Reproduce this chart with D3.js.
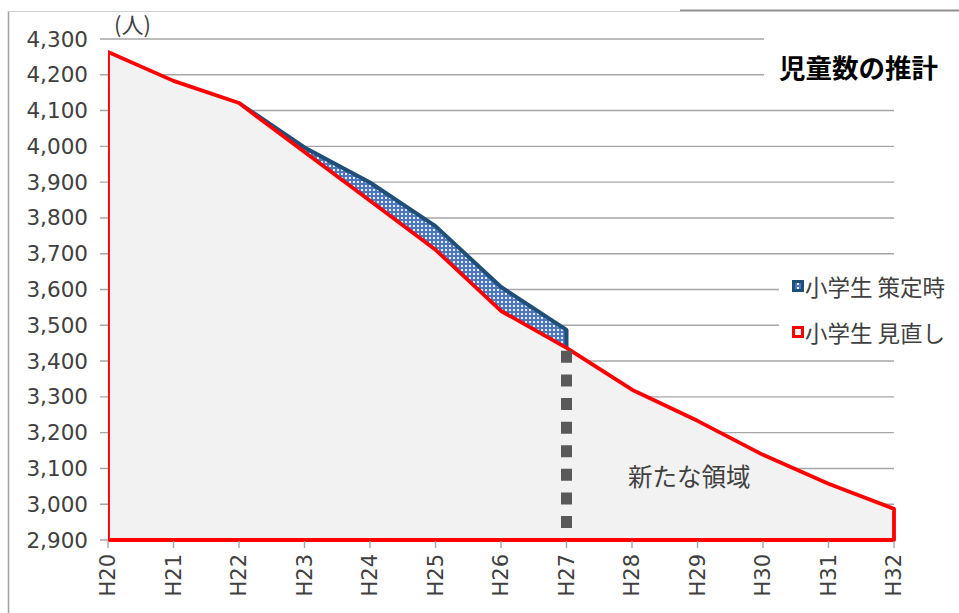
<!doctype html>
<html lang="ja">
  <head>
    <meta charset="UTF-8" />
    <title>児童数の推計</title>
    <style>
      body { margin: 0; background: #fff; }
      text { fill: #404040; }
    </style>
  </head>
  <body>
    <div id="target"></div>
    <script src="https://d3js.org/d3.v7.min.js"></script>
    <script>
      /* global d3 */

      const years = ["H20", "H21", "H22", "H23", "H24", "H25", "H26",
        "H27", "H28", "H29", "H30", "H31", "H32"];
      // 小学生 見直し (revised)
      const revised = [4264, 4183, 4121, 3984, 3848, 3711, 3540,
        3437, 3320, 3233, 3138, 3057, 2987];
      // 小学生 策定時 (original plan), H22..H27
      const planYears = ["H22", "H23", "H24", "H25", "H26", "H27"];
      const plan = [4121, 3997, 3899, 3777, 3607, 3487];
      const yTicks = d3.range(2900, 4301, 100);

      const width = 959, height = 613;
      const fontNum = "'DejaVu Sans', Verdana, sans-serif";
      const fontJa = "'Noto Sans CJK JP', sans-serif";

      const svg = d3.select("#target").append("svg")
        .attr("width", width).attr("height", height);

      const x = d3.scalePoint().domain(years).range([108, 894]);
      const y = d3.scaleLinear().domain([2900, 4300]).range([540, 39]);

      // outer frame
      svg.append("line").attr("x1", 8.5).attr("x2", 8.5).attr("y1", 11).attr("y2", height)
        .attr("stroke", "#a0a0a0").attr("stroke-width", 1.5);
      svg.append("line").attr("x1", 8).attr("x2", 680).attr("y1", 11.5).attr("y2", 11.5)
        .attr("stroke", "#d0d0d0").attr("stroke-width", 1);
      svg.append("line").attr("x1", 680).attr("x2", width).attr("y1", 10.5).attr("y2", 10.5)
        .attr("stroke", "#909090").attr("stroke-width", 2);

      // gridlines
      svg.append("g").selectAll("line").data(yTicks).join("line")
        .attr("x1", 100).attr("x2", 894)
        .attr("y1", (d) => y(d)).attr("y2", (d) => y(d))
        .attr("stroke", "#a6a6a6").attr("stroke-width", 1.4);

      // y labels
      svg.append("g").selectAll("text").data(yTicks).join("text")
        .attr("x", 88).attr("y", (d) => y(d))
        .attr("text-anchor", "end").attr("dominant-baseline", "central")
        .style("font", `21.5px ${fontNum}`)
        .text((d) => d3.format(",")(d));

      svg.append("text").attr("x", 114).attr("y", 23)
        .attr("dominant-baseline", "central")
        .style("font", `22px ${fontJa}`).text("(人)");

      // pattern for plan area
      const defs = svg.append("defs");
      const pat = defs.append("pattern").attr("id", "dots")
        .attr("patternUnits", "userSpaceOnUse").attr("width", 4).attr("height", 4);
      pat.append("rect").attr("width", 4).attr("height", 4).attr("fill", "#4d77c0");
      pat.append("rect").attr("x", 1).attr("y", 1).attr("width", 2).attr("height", 2).attr("fill", "#e6eefa");

      defs.append("clipPath").attr("id", "plotClip").append("rect")
        .attr("x", 108).attr("y", 0).attr("width", 790).attr("height", 542);

      const area = d3.area().x((d) => x(d[0])).y0(y(2900)).y1((d) => y(d[1]));

      svg.append("path")
        .datum(planYears.map((d, i) => [d, plan[i]]))
        .attr("d", area)
        .attr("fill", "url(#dots)")
        .attr("stroke", "#1f4e79").attr("stroke-width", 4)
        .attr("stroke-linejoin", "round");

      svg.append("path")
        .datum(years.map((d, i) => [d, revised[i]]))
        .attr("clip-path", "url(#plotClip)")
        .attr("d", area)
        .attr("fill", "#f2f2f2")
        .attr("stroke", "#ff0000").attr("stroke-width", 3.8)
        .attr("stroke-linejoin", "round");

      // x ticks and labels
      const gx = svg.append("g");
      gx.selectAll("line").data(years).join("line")
        .attr("x1", (d) => x(d)).attr("x2", (d) => x(d))
        .attr("y1", 541).attr("y2", 548)
        .attr("stroke", "#a6a6a6").attr("stroke-width", 1.4);
      gx.selectAll("text").data(years).join("text")
        .attr("transform", (d) => `translate(${x(d)},554) rotate(-90)`)
        .attr("text-anchor", "end").attr("dominant-baseline", "central")
        .style("font", `21px ${fontNum}`)
        .text((d) => d);

      // boundary marker at H27
      const h27 = revised[years.indexOf("H27")];
      svg.append("line")
        .attr("x1", x("H27")).attr("x2", x("H27"))
        .attr("y1", y(h27) + 3).attr("y2", 531)
        .attr("stroke", "#595959").attr("stroke-width", 11)
        .attr("stroke-dasharray", "12 11.6");

      svg.append("text").attr("x", 628).attr("y", 475)
        .attr("dominant-baseline", "central")
        .style("font", `24.5px ${fontJa}`).text("新たな領域");

      // title
      svg.append("rect").attr("x", 764).attr("y", 28).attr("width", 195).attr("height", 64).attr("fill", "#fff");
      svg.append("text").attr("x", 779).attr("y", 66)
        .attr("dominant-baseline", "central")
        .style("font", `bold 26.5px ${fontJa}`).style("fill", "#000")
        .text("児童数の推計");

      // legend
      svg.append("rect").attr("x", 779).attr("y", 268).attr("width", 180).attr("height", 78).attr("fill", "#fff");
      const legend = [
        { label: "小学生 策定時", fill: "url(#dots)", stroke: "#1f4e79" },
        { label: "小学生 見直し", fill: "#f2f2f2", stroke: "#ff0000" },
      ];
      const lg = svg.append("g").selectAll("g").data(legend).join("g")
        .attr("transform", (d, i) => `translate(792,${286 + i * 46})`);
      lg.append("rect").attr("x", 1.5).attr("y", -4.5).attr("width", 9).attr("height", 9)
        .attr("fill", (d) => d.fill).attr("stroke", (d) => d.stroke).attr("stroke-width", 3);
      lg.append("text").attr("x", 13).attr("y", 0)
        .attr("dominant-baseline", "central")
        .style("font", `22.5px ${fontJa}`)
        .text((d) => d.label);
    </script>
  </body>
</html>
